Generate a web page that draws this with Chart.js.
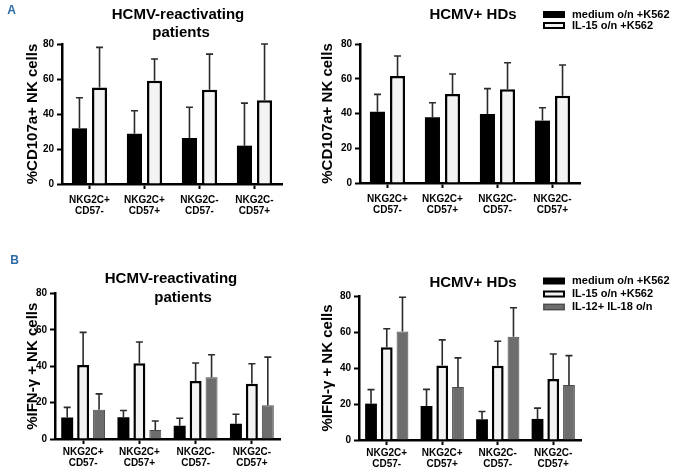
<!DOCTYPE html>
<html>
<head>
<meta charset="utf-8">
<script src="https://cdn.jsdelivr.net/npm/chart.js@4/dist/chart.umd.min.js"></script>
<style>
  body { margin: 0; background: #fff; }
  #wrap { position: relative; width: 674px; height: 476px; background: #fff; }
  canvas { position: absolute; }
</style>
</head>
<body>
<div id="wrap">
  <canvas id="a1" width="310" height="238" style="left:0;top:0"></canvas>
  <canvas id="a2" width="364" height="238" style="left:310px;top:0"></canvas>
  <canvas id="b1" width="310" height="238" style="left:0;top:238px"></canvas>
  <canvas id="b2" width="364" height="238" style="left:310px;top:238px"></canvas>
</div>
<script>
const categories = [['NKG2C+', 'CD57-'], ['NKG2C+', 'CD57+'], ['NKG2C-', 'CD57-'], ['NKG2C-', 'CD57+']]
const seriesNames = ['medium o/n +K562', 'IL-15 o/n +K562', 'IL-12+ IL-18 o/n']
const yTicks = [0, 20, 40, 60, 80]

// A: %CD107a+, HCMV-reactivating patients
const aPatMedium = [31.8, 28.7, 26.3, 21.9]
const aPatMediumSd = [17.5, 13.2, 17.6, 24.3]
const aPatIl15 = [55.2, 59.0, 53.9, 47.8]
const aPatIl15Sd = [22.9, 12.4, 20.3, 32.2]
// A: %CD107a+, HCMV+ HDs
const aHdMedium = [41.0, 37.8, 39.7, 35.9]
const aHdMediumSd = [10.0, 8.4, 14.6, 7.4]
const aHdIl15 = [61.6, 51.2, 53.9, 50.2]
const aHdIl15Sd = [11.5, 11.5, 15.3, 17.7]
// B: %IFN-γ+, HCMV-reactivating patients
const bPatMedium = [11.8, 12.0, 7.3, 8.4]
const bPatMediumSd = [5.6, 3.7, 4.1, 5.2]
const bPatIl15 = [40.7, 41.6, 31.9, 30.4]
const bPatIl15Sd = [17.9, 11.7, 9.9, 11.0]
const bPatIl1218 = [16.1, 4.9, 33.9, 18.5]
const bPatIl1218Sd = [8.7, 5.0, 12.4, 26.5]
// B: %IFN-γ+, HCMV+ HDs
const bHdMedium = [20.2, 18.9, 11.5, 11.7]
const bHdMediumSd = [7.8, 9.2, 4.3, 6.0]
const bHdIl15 = [51.5, 41.4, 41.3, 33.9]
const bHdIl15Sd = [10.3, 14.2, 13.6, 13.9]
const bHdIl1218 = [60.3, 29.4, 57.3, 30.5]
const bHdIl1218Sd = [19.0, 16.2, 16.2, 16.4]

const FONT = "'Liberation Sans', Arial, Helvetica, sans-serif"
Chart.defaults.font.family = FONT
Chart.defaults.color = '#000'

const styles = [
  { backgroundColor: '#000', borderColor: '#000', borderWidth: 0 },
  { backgroundColor: '#f3f3f3', borderColor: '#000', borderWidth: 2.5 },
  { backgroundColor: '#6d6d6d', borderColor: '#4a4a4a', borderWidth: 1 },
]

function makeSets(values, sds) {
  return values.map((v, i) => Object.assign({ label: seriesNames[i], data: v, sd: sds[i] }, styles[i]))
}

// upper error bars (mean + SD)
const errorBars = {
  id: 'errorBars',
  afterDatasetsDraw(chart) {
    const ctx = chart.ctx
    const y = chart.scales.y
    ctx.save()
    ctx.strokeStyle = '#2b2b2b'
    ctx.lineWidth = 1.6
    chart.data.datasets.forEach((ds, i) => {
      chart.getDatasetMeta(i).data.forEach((bar, j) => {
        const top = y.getPixelForValue(ds.data[j] + ds.sd[j])
        ctx.beginPath()
        ctx.moveTo(bar.x, bar.y)
        ctx.lineTo(bar.x, top)
        ctx.moveTo(bar.x - 3.5, top)
        ctx.lineTo(bar.x + 3.5, top)
        ctx.stroke()
      })
    })
    ctx.restore()
  }
}

// titles and panel letters
const panelText = {
  id: 'panelText',
  afterDraw(chart, args, opts) {
    const ctx = chart.ctx
    ctx.save()
    ctx.textAlign = 'center'
    ctx.textBaseline = 'middle'
    ;(opts.items || []).forEach(t => {
      ctx.font = 'bold ' + t.size + 'px ' + FONT
      ctx.fillStyle = t.color || '#000'
      ctx.fillText(t.text, t.x, t.y)
    })
    ctx.restore()
  }
}

const boxLegend = {
  id: 'boxLegend',
  afterDraw(chart, args, opts) {
    if (!opts.show) return
    const ctx = chart.ctx
    ctx.save()
    ctx.font = 'bold 11px ' + FONT
    ctx.textBaseline = 'middle'
    ctx.textAlign = 'left'
    chart.data.datasets.forEach((ds, i) => {
      const cy = opts.y + i * opts.gap
      ctx.fillStyle = ds.backgroundColor
      ctx.fillRect(opts.x, cy - 3.5, 22, 7)
      ctx.strokeStyle = ds.borderColor
      ctx.lineWidth = ds.borderWidth ? Math.min(ds.borderWidth, 2) : 0
      if (ds.borderWidth) ctx.strokeRect(opts.x + 1, cy - 2.5, 20, 5)
      ctx.fillStyle = '#000'
      ctx.fillText(ds.label, opts.x + 29, cy)
    })
    ctx.restore()
  }
}

function makeChart(id, sets, p) {
  return new Chart(document.getElementById(id), {
    type: 'bar',
    data: { labels: categories, datasets: sets },
    plugins: [errorBars, panelText, boxLegend],
    options: {
      responsive: false,
      animation: false,
      events: [],
      categoryPercentage: p.cat,
      barPercentage: 0.75,
      layout: { padding: { left: 0, right: p.right, top: p.top, bottom: p.bottom } },
      plugins: {
        legend: { display: false },
        tooltip: { enabled: false },
        panelText: { items: p.texts },
        boxLegend: p.legend || { show: false },
      },
      scales: {
        x: {
          ticks: { font: { size: 10, weight: 'bold', lineHeight: 1.1 }, color: '#000', padding: p.xPad, maxRotation: 0, autoSkip: false },
          grid: { offset: false, drawOnChartArea: false, tickLength: 5, tickColor: '#000', tickWidth: 2 },
          border: { color: '#000', width: 2.5 },
          afterFit: s => { s.height = p.xH },
        },
        y: {
          min: 0, max: 80,
          afterBuildTicks: s => { s.ticks = yTicks.map(v => ({ value: v })) },
          ticks: { font: { size: 10, weight: 'bold' }, color: '#000', padding: 3 },
          grid: { drawOnChartArea: false, tickLength: 5, tickColor: '#000', tickWidth: 2 },
          border: { color: '#000', width: 2.5 },
          title: { display: true, text: p.yTitle, font: { size: 15, weight: 'bold' }, color: '#000', padding: { top: p.titlePad, bottom: 0 } },
          afterFit: s => { s.width = p.yW },
        },
      },
    },
  })
}

const letterColor = '#2c6aa6'

makeChart('a1', makeSets([aPatMedium, aPatIl15], [aPatMediumSd, aPatIl15Sd]), {
  cat: 0.73, right: 28, top: 44, bottom: 14, xH: 40, yW: 62, xPad: 6, titlePad: 24,
  yTitle: '%CD107a+ NK cells',
  texts: [
    { text: 'A', x: 11.5, y: 10.5, size: 12, color: letterColor },
    { text: 'HCMV-reactivating', x: 178, y: 15, size: 15 },
    { text: 'patients', x: 181, y: 32.5, size: 15 },
  ],
})

makeChart('a2', makeSets([aHdMedium, aHdIl15], [aHdMediumSd, aHdIl15Sd]), {
  cat: 0.73, right: 94, top: 44, bottom: 15, xH: 40, yW: 50, xPad: 6, titlePad: 9,
  yTitle: '%CD107a+ NK cells',
  texts: [{ text: 'HCMV+ HDs', x: 163, y: 15, size: 15 }],
  legend: { show: true, x: 233, y: 14.5, gap: 11 },
})

makeChart('b1', makeSets([bPatMedium, bPatIl15, bPatIl1218], [bPatMediumSd, bPatIl15Sd, bPatIl1218Sd]), {
  cat: 0.85, right: 30, top: 55.5, bottom: 7, xH: 30, yW: 55, xPad: 2.5, titlePad: 24,
  yTitle: '%IFN-γ + NK cells',
  texts: [
    { text: 'B', x: 14.5, y: 23, size: 12, color: letterColor },
    { text: 'HCMV-reactivating', x: 171, y: 41, size: 15 },
    { text: 'patients', x: 183, y: 60, size: 15 },
  ],
})

makeChart('b2', makeSets([bHdMedium, bHdIl15, bHdIl1218], [bHdMediumSd, bHdIl15Sd, bHdIl1218Sd]), {
  cat: 0.85, right: 93, top: 58, bottom: 6, xH: 30, yW: 49, xPad: 2.5, titlePad: 8.5,
  yTitle: '%IFN-γ + NK cells',
  texts: [{ text: 'HCMV+ HDs', x: 163, y: 45, size: 15 }],
  legend: { show: true, x: 233, y: 43, gap: 13 },
})
</script>
</body>
</html>
